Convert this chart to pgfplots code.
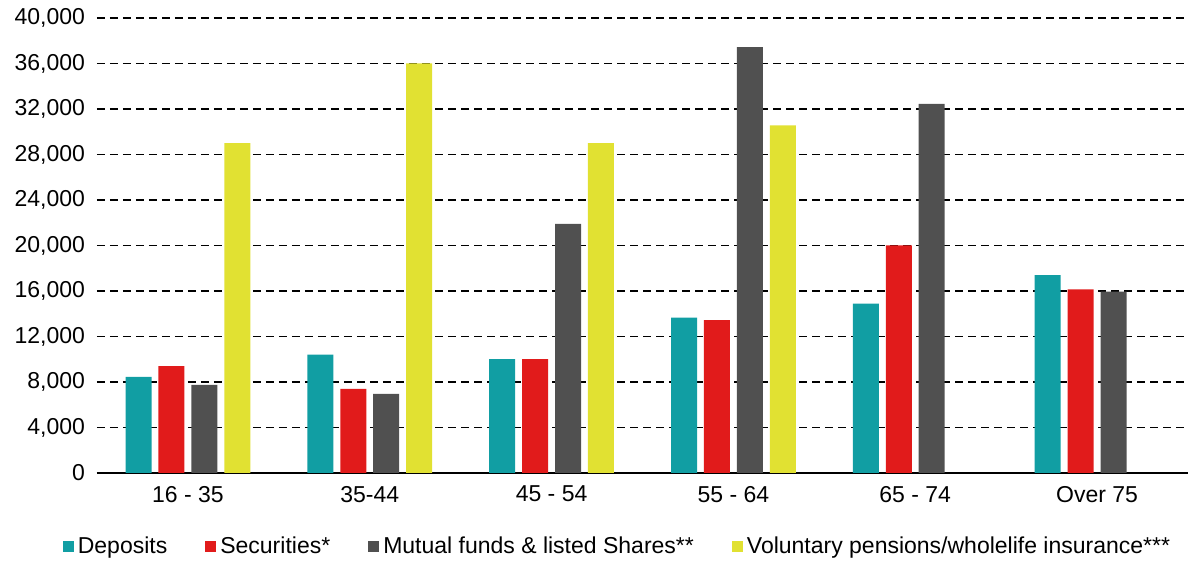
\documentclass[border=0pt]{standalone}
\usepackage{fontspec}
\setmainfont{Liberation Sans}
\usepackage{pgfplots}
\pgfplotsset{compat=1.18}
\usetikzlibrary{calc}
\definecolor{cdep}{RGB}{17,158,163}
\definecolor{csec}{RGB}{225,27,27}
\definecolor{cmut}{RGB}{80,80,80}
\definecolor{cvol}{RGB}{225,225,50}
\begin{document}
\begin{tikzpicture}
\begin{axis}[
	scale only axis,
	width=545.5pt, height=227.5pt,
	ymin=0, ymax=40000,
	ytick={0,4000,...,40000},
	scaled y ticks=false,
	yticklabel style={/pgf/number format/1000 sep={,}, /pgf/number format/assume math mode=true, xshift=-2.5pt},
	xmin=-0.5, xmax=5.5,
	xtick={0,...,5},
	xticklabels={16 - 35, 35-44, 45 - 54, 55 - 64, 65 - 74, Over 75},
	axis x line=bottom, axis y line=left,
	y axis line style={draw=none},
	x axis line style={-, line width=1pt},
	major tick length=0pt,
	ymajorgrids,
	grid style={black, line width=0.6pt, dash pattern=on 4pt off 2.5pt},
	tick label style={font=\fontsize{11.5}{13}\selectfont},
	xticklabel style={yshift=-3pt},
	bar width=0.143,
	legend style={at={(0.478,-0.122)}, anchor=north, draw=none,
		font=\fontsize{11.5}{13}\selectfont,
		/tikz/every even column/.append style={column sep=17pt}},
	legend columns=-1,
	legend image code/.code={\fill[#1] (0pt,-2.75pt) rectangle (5.5pt,2.75pt);},
]
	\addplot[ybar, fill=cdep, draw=none, bar shift=-0.2715] coordinates {
		(0,8450) (1,10400) (2,10000) (3,13650) (4,14900) (5,17400)
	};
	\addlegendentry{Deposits}
	\addplot[ybar, fill=csec, draw=none, bar shift=-0.0905] coordinates {
		(0,9400) (1,7400) (2,10000) (3,13450) (4,20000) (5,16150)
	};
	\addlegendentry{Securities*}
	\addplot[ybar, fill=cmut, draw=none, bar shift=0.0905] coordinates {
		(0,7750) (1,6950) (2,21900) (3,37450) (4,32450) (5,15950)
	};
	\addlegendentry{Mutual funds \& listed Shares**}
	\addplot[ybar, fill=cvol, draw=none, bar shift=0.2715] coordinates {
		(0,29000) (1,36000) (2,29000) (3,30550)
	};
	\addlegendentry{Voluntary pensions/wholelife insurance***}
\end{axis}
\pgfresetboundingbox
\path ($(current axis.south west)+(-48.5pt,-44pt)$) rectangle ($(current axis.south west)+(546.5pt,236.5pt)$);
\end{tikzpicture}
\end{document}
